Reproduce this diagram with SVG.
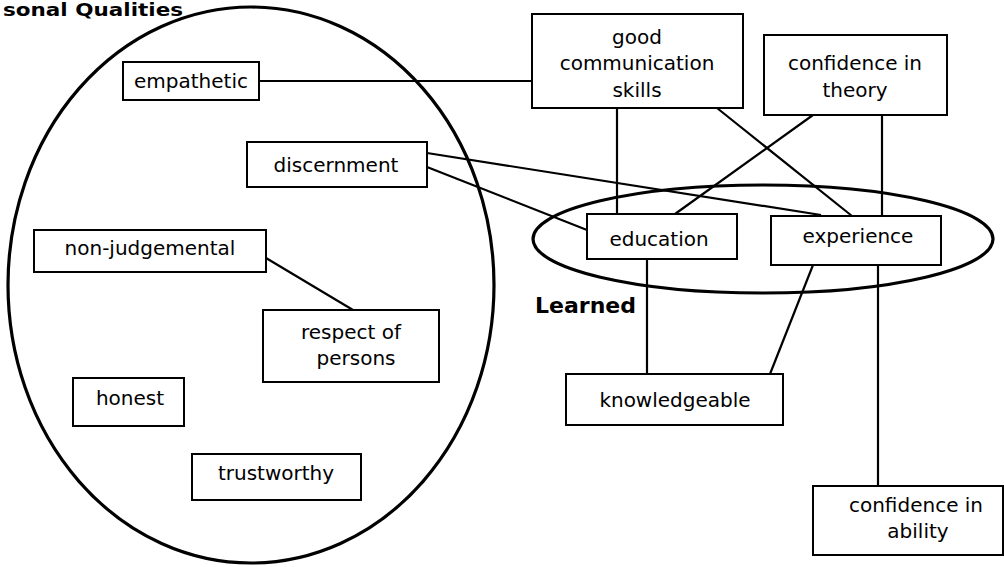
<svg xmlns="http://www.w3.org/2000/svg" width="1004" height="567" viewBox="0 0 1004 567">
<style>
.box{fill:#fff;stroke:#000;stroke-width:2}
.t{font-family:"DejaVu Sans",sans-serif;font-size:20px;text-anchor:middle;fill:#000}
.b{font-family:"DejaVu Sans",sans-serif;font-weight:bold;fill:#000}
.c{stroke:#000;stroke-width:2.2;fill:none}
.e{fill:none;stroke:#000;stroke-width:3.2}
</style>
<rect width="1004" height="567" fill="#fff"/>
<g id="groups">
<ellipse class="e" cx="251" cy="285" rx="243" ry="278"/>
<ellipse class="e" cx="763" cy="239" rx="230" ry="54"/>
<text class="b" x="3" y="16" font-size="18" textLength="180" lengthAdjust="spacingAndGlyphs">sonal Qualities</text>
<text class="b" x="535" y="313" font-size="22">Learned</text>
</g>
<g id="connectors">
<line class="c" x1="259" y1="81" x2="532" y2="81"/>
<line class="c" x1="427" y1="153" x2="821" y2="215"/>
<line class="c" x1="427" y1="167" x2="587" y2="230"/>
<line class="c" x1="617" y1="108" x2="617" y2="214"/>
<line class="c" x1="717" y1="108" x2="852" y2="216"/>
<line class="c" x1="813" y1="115" x2="675" y2="214"/>
<line class="c" x1="882" y1="115" x2="882" y2="216"/>
<line class="c" x1="647" y1="259" x2="647" y2="374"/>
<line class="c" x1="813" y1="265" x2="770" y2="374"/>
<line class="c" x1="878" y1="265" x2="878" y2="486"/>
<line class="c" x1="266" y1="258" x2="353" y2="310"/>
</g>
<g id="empathetic"><rect class="box" x="123" y="62" width="136" height="38"/><text class="t" x="191" y="88">empathetic</text></g>
<g id="discernment"><rect class="box" x="247" y="142" width="180" height="45"/><text class="t" x="336" y="172">discernment</text></g>
<g id="good-communication"><rect class="box" x="532" y="14" width="211" height="94"/><text class="t" x="637" y="44">good</text><text class="t" x="637" y="70">communication</text><text class="t" x="637" y="97">skills</text></g>
<g id="confidence-theory"><rect class="box" x="764" y="35" width="183" height="80"/><text class="t" x="855" y="70">confidence in</text><text class="t" x="855" y="97">theory</text></g>
<g id="education"><rect class="box" x="587" y="214" width="150" height="45"/><text class="t" x="659" y="246">education</text></g>
<g id="experience"><rect class="box" x="771" y="216" width="170" height="49"/><text class="t" x="858" y="243">experience</text></g>
<g id="non-judgemental"><rect class="box" x="34" y="230" width="232" height="42"/><text class="t" x="150" y="255">non-judgemental</text></g>
<g id="respect"><rect class="box" x="263" y="310" width="176" height="72"/><text class="t" x="351" y="339">respect of</text><text class="t" x="356" y="365">persons</text></g>
<g id="honest"><rect class="box" x="73" y="378" width="111" height="48"/><text class="t" x="130" y="405">honest</text></g>
<g id="trustworthy"><rect class="box" x="192" y="454" width="169" height="46"/><text class="t" x="276" y="480">trustworthy</text></g>
<g id="knowledgeable"><rect class="box" x="566" y="374" width="217" height="51"/><text class="t" x="675" y="407">knowledgeable</text></g>
<g id="confidence-ability"><rect class="box" x="813" y="486" width="190" height="69"/><text class="t" x="916" y="512">confidence in</text><text class="t" x="918" y="538">ability</text></g>
</svg>
